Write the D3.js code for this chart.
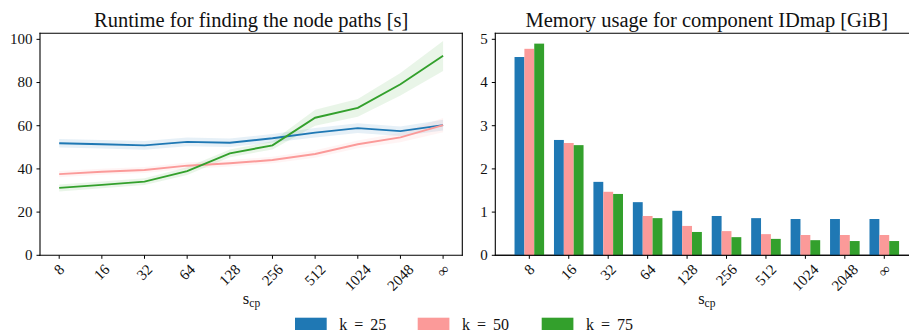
<!DOCTYPE html>
<html>
<head>
<meta charset="utf-8">
<script src="https://cdn.jsdelivr.net/npm/d3@7"></script>
<style>
  body { margin: 0; background: #fff; }
  svg { display: block; }
  svg text { font-family: "Liberation Serif", "Times New Roman", serif; }
</style>
</head>
<body>
<div id="paper"></div>
<script>
// categories (s_cp)
const scp = ["8", "16", "32", "64", "128", "256", "512", "1024", "2048", "∞"];
const seriesNames = ["k = 25", "k = 50", "k = 75"];
const colors = ["#1f78b4", "#fb9a99", "#33a02c"];

// runtime [s], mean and band
const rt25 = [51.9, 51.4, 50.9, 52.5, 52.1, 54.2, 56.8, 58.9, 57.5, 60.3];
const rt25lo = [49.9, 49.4, 48.9, 50.5, 50.1, 52.2, 54.6, 56.6, 55.3, 57.8];
const rt25hi = [53.9, 53.4, 52.9, 54.5, 54.1, 56.2, 59.0, 61.2, 59.7, 62.8];
const rt50 = [37.6, 38.7, 39.5, 41.5, 42.6, 44.1, 46.9, 51.4, 54.6, 60.3];
const rt50lo = [36.2, 37.3, 38.1, 40.0, 41.1, 42.6, 45.2, 49.6, 52.4, 57.0];
const rt50hi = [39.0, 40.1, 40.9, 43.0, 44.1, 45.6, 48.6, 53.2, 56.8, 63.6];
const rt75 = [31.2, 32.6, 34.1, 39.0, 47.2, 50.9, 63.7, 68.3, 79.2, 92.4];
const rt75lo = [29.6, 31.0, 32.5, 37.2, 45.4, 49.0, 60.0, 64.2, 74.0, 85.4];
const rt75hi = [32.8, 34.2, 35.7, 40.8, 49.0, 52.8, 67.4, 72.4, 84.4, 99.2];

// memory usage [GiB]
const mem25 = [4.59, 2.67, 1.70, 1.23, 1.03, 0.91, 0.86, 0.84, 0.84, 0.84];
const mem50 = [4.78, 2.60, 1.47, 0.91, 0.68, 0.56, 0.49, 0.47, 0.47, 0.47];
const mem75 = [4.90, 2.55, 1.42, 0.86, 0.54, 0.42, 0.38, 0.35, 0.33, 0.33];

const rtTicks = [0, 20, 40, 60, 80, 100];
const memTicks = [0, 1, 2, 3, 4, 5];

const W = 909, H = 333;
const yTop = 33.3, yBot = 255.3;
const tickFont = 15;

const svg = d3.select("#paper").append("svg")
  .attr("width", W).attr("height", H)
  .attr("viewBox", [0, 0, W, H]);

let frame = (x0, x1, yScale, ticks, title, rightSpine) => {
  const g = svg.append("g");
  // y ticks
  ticks.forEach(t => {
    const y = yScale(t);
    g.append("line").attr("x1", x0 - 3.5).attr("x2", x0).attr("y1", y).attr("y2", y)
      .attr("stroke", "#000").attr("stroke-width", 1);
    g.append("text").attr("x", x0 - 7.5).attr("y", y).attr("dy", "0.33em")
      .attr("text-anchor", "end").attr("font-size", tickFont).attr("fill", "#111").text(t);
  });
  // spines
  const sp = [[x0, yTop, x0, yBot], [x0, yBot, x1, yBot], [x0, yTop, x1, yTop]];
  if (rightSpine) sp.push([x1, yTop, x1, yBot]);
  sp.forEach(([a, b, c, d]) => g.append("line")
    .attr("x1", a).attr("y1", b).attr("x2", c).attr("y2", d)
    .attr("stroke", "#000").attr("stroke-width", 1.1).attr("stroke-linecap", "square"));
  g.append("text").attr("x", (x0 + x1) / 2).attr("y", 26.5)
    .attr("text-anchor", "middle").attr("font-size", 20.5).attr("fill", "#111").text(title);
  return g;
};

let xTicks = (g, xScale, labelX) => {
  scp.forEach((c, i) => {
    const x = xScale(i);
    g.append("line").attr("x1", x).attr("x2", x).attr("y1", yBot).attr("y2", yBot + 3.5)
      .attr("stroke", "#000").attr("stroke-width", 1);
    const t = g.append("text").attr("font-size", tickFont).attr("fill", "#111")
      .attr("text-anchor", "middle").attr("dy", "0.33em").text(c);
    const w = t.node().getComputedTextLength();
    const h = tickFont * 0.7;
    const cy = yBot + 8 + (w + h) / (2 * Math.SQRT2);
    t.attr("transform", `translate(${x},${cy}) rotate(-45)`);
  });
  const lab = g.append("text").attr("x", labelX).attr("y", 304)
    .attr("text-anchor", "middle").attr("font-size", 16.5).attr("fill", "#111");
  lab.append("tspan").text("s");
  lab.append("tspan").attr("font-size", 11.5).attr("dy", 3).text("cp");
};

// left: runtime lines
const xL = d3.scaleLinear().domain([-0.45, 9.45]).range([40, 462.3]);
const yL = d3.scaleLinear().domain([0, 102.8]).range([yBot, yTop]);
const gL = frame(40, 462.3, yL, rtTicks, "Runtime for finding the node paths [s]", true);

const lines = [[rt25, rt25lo, rt25hi], [rt50, rt50lo, rt50hi], [rt75, rt75lo, rt75hi]];
const area = d3.area().x((d, i) => xL(i)).y0(d => yL(d[0])).y1(d => yL(d[1]));
const line = d3.line().x((d, i) => xL(i)).y(d => yL(d));
lines.forEach(([m, lo, hi], k) => {
  gL.append("path").datum(lo.map((v, i) => [v, hi[i]]))
    .attr("d", area).attr("fill", colors[k]).attr("fill-opacity", 0.11);
});
lines.forEach(([m], k) => {
  gL.append("path").datum(m).attr("d", line)
    .attr("fill", "none").attr("stroke", colors[k]).attr("stroke-width", 1.9);
});
xTicks(gL, xL, 251.5);

// right: memory bars
const xR = d3.scaleLinear().domain([-0.8625, 9.8625]).range([495.3, 918.3]);
const yR = d3.scaleLinear().domain([0, 5.139]).range([yBot, yTop]);
const gR = frame(495.3, 918.3, yR, memTicks, "Memory usage for component IDmap [GiB]", false);

const mems = [mem25, mem50, mem75];
const bw = 0.25;
mems.forEach((vals, k) => {
  gR.append("g").selectAll("rect").data(vals).join("rect")
    .attr("x", (d, i) => xR(i + (k - 1) * bw - bw / 2))
    .attr("width", (d, i) => xR(i + bw) - xR(i))
    .attr("y", d => yR(d))
    .attr("height", d => yR(0) - yR(d))
    .attr("fill", colors[k]);
});
// bottom spine over the bars
gR.append("line").attr("x1", 495.3).attr("x2", W).attr("y1", yBot).attr("y2", yBot)
  .attr("stroke", "#000").attr("stroke-width", 1.1);
xTicks(gR, xR, 706.8);

// legend
const legX = [295, 417.7, 541.7];
seriesNames.forEach((s, k) => {
  svg.append("rect").attr("x", legX[k]).attr("y", 317.7).attr("width", 31.7).attr("height", 12.3)
    .attr("fill", colors[k]);
  svg.append("text").attr("x", legX[k] + 44.3).attr("y", 329.5)
    .attr("font-size", 16).attr("word-spacing", 3).attr("fill", "#111").text(s);
});
</script>
</body>
</html>
